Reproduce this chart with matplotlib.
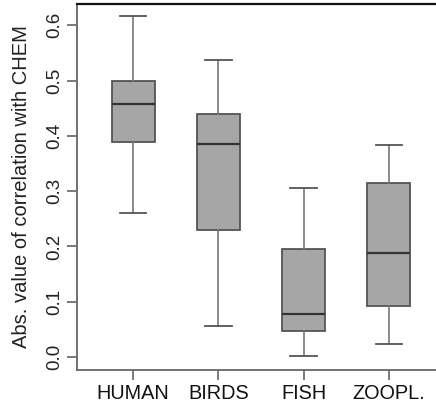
import matplotlib
matplotlib.use("Agg")
import matplotlib.pyplot as plt

plt.rcParams['font.family'] = ['Liberation Sans', 'DejaVu Sans']

groups = ["HUMAN", "BIRDS", "FISH", "ZOOPL."]
# five-number summaries
whis_lo = [0.261, 0.056, 0.001, 0.023]
q1 = [0.389, 0.229, 0.047, 0.093]
med = [0.457, 0.386, 0.077, 0.189]
q3 = [0.500, 0.440, 0.195, 0.314]
whis_hi = [0.616, 0.537, 0.305, 0.383]

stats = []
for i, g in enumerate(groups):
    stats.append(dict(label=g, whislo=whis_lo[i], q1=q1[i], med=med[i],
                      q3=q3[i], whishi=whis_hi[i], fliers=[]))

fig = plt.figure(figsize=(4.36, 4.03), dpi=100)
# plot box runs past the right edge of the picture
ax = fig.add_axes([77 / 436, 33 / 403, 368 / 436, 366.5 / 403])

ax.bxp(stats, positions=[1, 2, 3, 4], widths=0.5, patch_artist=True,
       showfliers=False,
       boxprops=dict(facecolor="#a6a6a6", edgecolor="#555555", linewidth=1.3),
       medianprops=dict(color="#333333", linewidth=1.6),
       whiskerprops=dict(color="#777777", linewidth=1.2),
       capprops=dict(color="#555555", linewidth=1.3),
       capwidths=0.31)

ax.set_xlim(0.34, 4.66)
ax.set_ylim(-0.0235, 0.6395)
ax.set_yticks([0.0, 0.1, 0.2, 0.3, 0.4, 0.5, 0.6])
ax.set_yticklabels(["0.0", "0.1", "0.2", "0.3", "0.4", "0.5", "0.6"],
                   rotation=90, va="center", fontsize=13.5, color="#222222")
ax.set_xticks([1, 2, 3, 4])
ax.set_xticklabels(groups, fontsize=14.3, color="#111111")
ax.tick_params(axis="both", direction="out", length=7, width=1.1,
               color="#555555", pad=3)
ax.set_ylabel("Abs. value of correlation with CHEM", fontsize=14.5,
              color="#222222")
ax.yaxis.set_label_coords(-46 / 368, 0.5)

ax.spines["top"].set_color("#111111")
ax.spines["top"].set_linewidth(1.6)
for s in ["left", "bottom"]:
    ax.spines[s].set_color("#666666")
    ax.spines[s].set_linewidth(1.3)
ax.spines["right"].set_visible(False)

fig.savefig("out.png", dpi=100)
